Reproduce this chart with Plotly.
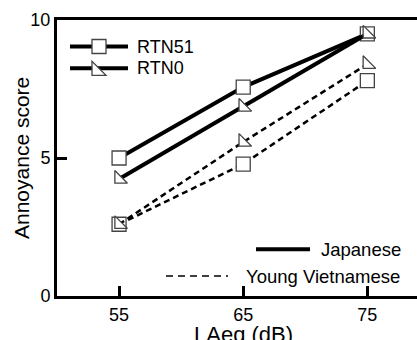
import plotly.graph_objects as go

laeq = [55, 65, 75]
jp_rtn51 = [5.0, 7.57, 9.5]
jp_rtn0 = [4.24, 6.85, 9.5]
vn_rtn51 = [2.6, 4.78, 7.8]
vn_rtn0 = [2.6, 5.58, 8.4]
x_ticks = [55, 65, 75]
y_ticks = [0, 5, 10]

FONT = "Liberation Sans, Arial, sans-serif"
sq = dict(symbol="square", size=14, color="white", line=dict(color="#444", width=1.3))
tri = dict(symbol="triangle-sw", size=14, color="white", line=dict(color="#444", width=1.3))

fig = go.Figure()
fig.add_trace(go.Scatter(x=laeq, y=vn_rtn51, mode="lines+markers",
                         line=dict(color="black", width=2.5, dash="6px,4px"), marker=sq))
fig.add_trace(go.Scatter(x=laeq, y=vn_rtn0, mode="lines+markers",
                         line=dict(color="black", width=2.5, dash="6px,4px"), marker=tri))
fig.add_trace(go.Scatter(x=laeq, y=jp_rtn51, mode="lines+markers",
                         line=dict(color="black", width=4), marker=sq))
fig.add_trace(go.Scatter(x=laeq, y=jp_rtn0, mode="lines+markers",
                         line=dict(color="black", width=4), marker=tri))

L, R, T, B = 57, 0, 20, 44
W, H = 417, 340
pw, ph = W - L - R, H - T - B

def px(x):
    return (x - L) / pw

def py(y):
    return (H - B - y) / ph

shapes = []
annots = []
# legend 1
for yy, name, sym in [(46.5, "RTN51", "sq"), (68.3, "RTN0", "tri")]:
    shapes.append(dict(type="line", xref="paper", yref="paper", x0=px(70), x1=px(128),
                       y0=py(yy), y1=py(yy), line=dict(color="black", width=4)))
    if sym == "sq":
        shapes.append(dict(type="rect", xref="paper", yref="paper", xsizemode="pixel", ysizemode="pixel",
                           xanchor=px(99), yanchor=py(yy), x0=-7, x1=7, y0=-7, y1=7,
                           fillcolor="white", line=dict(color="#444", width=1.3)))
    else:
        shapes.append(dict(type="path", xref="paper", yref="paper", xsizemode="pixel", ysizemode="pixel",
                           xanchor=px(99), yanchor=py(yy), path="M -7,7 L -7,-7 L 7,-7 Z",
                           fillcolor="white", line=dict(color="#444", width=1.3)))
    annots.append(dict(text=name, x=px(135), y=py(yy), xref="paper", yref="paper",
                       xanchor="left", yanchor="middle", showarrow=False,
                       font=dict(family=FONT, size=18, color="black")))
# legend 2
shapes.append(dict(type="line", xref="paper", yref="paper", x0=px(256), x1=px(310),
                   y0=py(249.3), y1=py(249.3), line=dict(color="black", width=4)))
annots.append(dict(text="Japanese", x=px(319), y=py(249.3), xref="paper", yref="paper",
                   xanchor="left", yanchor="middle", showarrow=False,
                   font=dict(family=FONT, size=18.5, color="black")))
shapes.append(dict(type="line", xref="paper", yref="paper", x0=px(166), x1=px(228),
                   y0=py(276), y1=py(276), line=dict(color="black", width=1.3, dash="7px,5px")))
annots.append(dict(text="Young Vietnamese", x=px(244), y=py(276), xref="paper", yref="paper",
                   xanchor="left", yanchor="middle", showarrow=False,
                   font=dict(family=FONT, size=18.5, color="black")))
# axis titles
annots.append(dict(text="Annoyance score", x=px(21), y=0.5, xref="paper", yref="paper",
                   xanchor="center", yanchor="middle", textangle=-90, showarrow=False,
                   font=dict(family=FONT, size=21, color="black")))
annots.append(dict(text="LAeq (dB)", x=px(243), y=py(334), xref="paper", yref="paper",
                   xanchor="center", yanchor="middle", showarrow=False,
                   font=dict(family=FONT, size=22, color="black")))

fig.update_layout(
    width=W, height=H, margin=dict(l=L, r=R, t=T, b=B, pad=0),
    paper_bgcolor="white", plot_bgcolor="white", showlegend=False,
    font=dict(family=FONT, size=18, color="black"),
    shapes=shapes, annotations=annots,
    xaxis=dict(range=[50, 79], tickvals=x_ticks, ticks="inside", ticklen=10, tickwidth=2.5,
               tickcolor="black", showline=True, linewidth=3, linecolor="black", mirror=True,
               showgrid=False, zeroline=False, tickfont=dict(size=18)),
    yaxis=dict(range=[0, 10], tickvals=y_ticks, ticks="inside", ticklen=10, tickwidth=2.5,
               tickcolor="black", showline=True, linewidth=3, linecolor="black",
               showgrid=False, zeroline=False, tickfont=dict(size=18)),
)
fig.write_html("out.html")
